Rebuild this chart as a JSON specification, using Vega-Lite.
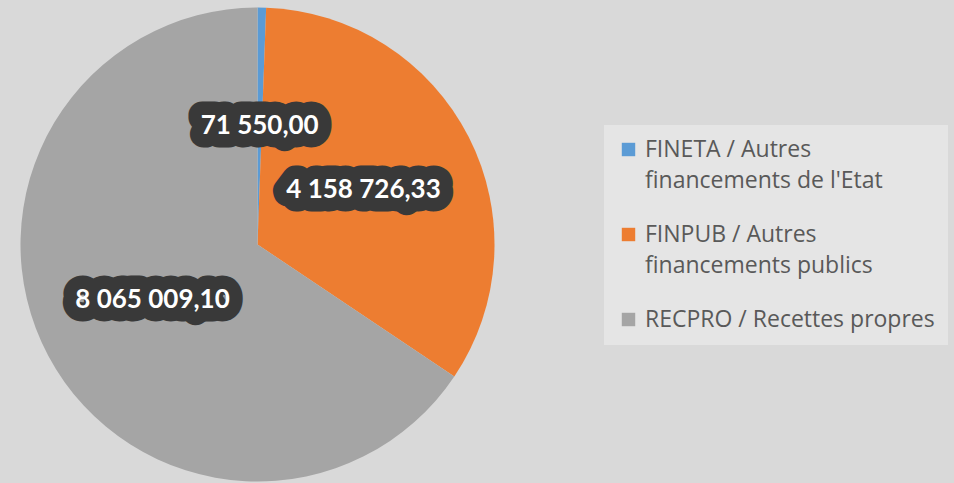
{
  "$schema": "https://vega.github.io/schema/vega-lite/v6.json",
  "width": 515,
  "height": 477,
  "padding": {"top": 6, "left": 0, "right": 6, "bottom": 0},
  "background": "#d9d9d9",
  "config": {
    "view": {"stroke": null},
    "style": {"guide-label": {"lineHeight": 31}},
    "locale": {"number": {"decimal": ",", "thousands": " ", "grouping": [3], "currency": ["", ""]}}
  },
  "data": {
    "values": [
      {"categorie": "FINETA / Autres financements de l'Etat", "montant": 71550.00},
      {"categorie": "FINPUB / Autres financements publics", "montant": 4158726.33},
      {"categorie": "RECPRO / Recettes propres", "montant": 8065009.10}
    ]
  },
  "encoding": {
    "theta": {"field": "montant", "type": "quantitative", "stack": true},
    "color": {
      "field": "categorie",
      "type": "nominal",
      "scale": {"range": ["#5B9BD5", "#ED7D31", "#A5A5A5"]},
      "legend": {
        "title": null,
        "orient": "none",
        "legendX": 604,
        "legendY": 119,
        "fillColor": "#e5e5e5",
        "padding": 13,
        "symbolType": "square",
        "symbolSize": 180,
        "symbolStrokeWidth": 0,
        "labelFont": "Open Sans",
        "labelFontSize": 23,
        "labelColor": "#595959",
        "labelLimit": 400,
        "labelOffset": 5,
        "rowPadding": 30,
        "labelExpr": "indexof(datum.label, 'Autres') >= 0 ? [slice(datum.label, 0, indexof(datum.label, 'Autres') + 6), slice(datum.label, indexof(datum.label, 'Autres') + 7)] : datum.label",
        "encode": {"labels": {"enter": {"lineHeight": {"value": 31}}, "update": {"lineHeight": {"value": 31}}}}
      }
    }
  },
  "layer": [
    {
      "mark": {"type": "arc", "outerRadius": 237, "stroke": null}
    },
    {
      "mark": {"type": "text", "radius": 119, "font": "Lato", "fontWeight": "bold", "fontSize": 26, "stroke": "#393939", "strokeWidth": 27, "strokeJoin": "round"},
      "encoding": {
        "text": {"field": "montant", "type": "quantitative", "format": ",.2f"},
        "color": {"value": "#393939"}
      }
    },
    {
      "mark": {"type": "text", "radius": 119, "font": "Lato", "fontWeight": "bold", "fontSize": 26},
      "encoding": {
        "text": {"field": "montant", "type": "quantitative", "format": ",.2f"},
        "color": {"value": "#ffffff"}
      }
    }
  ]
}
